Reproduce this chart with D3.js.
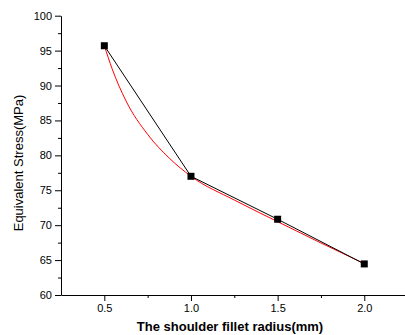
<!DOCTYPE html>
<html>
<head>
<meta charset="utf-8">
<script src="https://cdn.jsdelivr.net/npm/d3@7"></script>
<style>
  html, body { margin: 0; padding: 0; background: #fff; }
  svg { display: block; }
  text { font-family: "Liberation Sans", Arial, sans-serif; fill: #000; }
</style>
</head>
<body>
<svg id="chart" width="405" height="335"></svg>
<script>
// Data
const radius = [0.5, 1.0, 1.5, 2.0];
const stress = [95.7, 77.0, 70.85, 64.45];
// Red fitted curve
const fitX = [0.5, 0.545, 0.625, 0.75, 0.875, 1.0, 1.25, 1.5, 1.75, 2.0];
const fitY = [95.7, 92.4, 87.8, 83.0, 79.6, 77.0, 73.6, 70.5, 67.45, 64.5];
const xMajor = [0.5, 1.0, 1.5, 2.0];
const xMinor = [0.75, 1.25, 1.75];
const yMajor = [60, 65, 70, 75, 80, 85, 90, 95, 100];
const yMinor = [62.5, 67.5, 72.5, 77.5, 82.5, 87.5, 92.5, 97.5];
const xTitle = "The shoulder fillet radius(mm)";
const yTitle = "Equivalent Stress(MPa)";

const svg = d3.select("#chart");
const x = d3.scaleLinear().domain([0.25, 2.25]).range([61, 407.6]);
const y = d3.scaleLinear().domain([60, 100]).range([295, 15.7]);

// X axis
const gx = svg.append("g").attr("transform", `translate(0,${y(60)})`);
gx.call(d3.axisBottom(x).tickValues(xMajor).tickFormat(d3.format(".1f")).tickSize(6).tickSizeOuter(0));
gx.append("g").call(d3.axisBottom(x).tickValues(xMinor).tickFormat("").tickSize(3).tickSizeOuter(0))
  .select(".domain").remove();
gx.selectAll("text").attr("font-size", 11).attr("font-family", "Liberation Sans, Arial, sans-serif").attr("fill", "#000").attr("dy", "0.75em").attr("y", 9);

// Y axis
const gy = svg.append("g").attr("transform", `translate(${x(0.25)},0)`);
gy.call(d3.axisLeft(y).tickValues(yMajor).tickFormat(d3.format("d")).tickSize(6).tickSizeOuter(0));
gy.append("g").call(d3.axisLeft(y).tickValues(yMinor).tickFormat("").tickSize(3).tickSizeOuter(0))
  .select(".domain").remove();
gy.selectAll("text").attr("font-size", 11).attr("font-family", "Liberation Sans, Arial, sans-serif").attr("fill", "#000").attr("x", -9);

svg.selectAll(".domain, .tick line").attr("stroke", "#000").attr("stroke-width", 1);

// Red fitted curve
const fitData = fitX.map((d, i) => [d, fitY[i]]);
svg.append("path")
  .datum(fitData)
  .attr("fill", "none")
  .attr("stroke", "#ff0000")
  .attr("stroke-width", 1)
  .attr("d", d3.line().x(d => x(d[0])).y(d => y(d[1])).curve(d3.curveMonotoneX));

// Black line
const pts = radius.map((d, i) => [d, stress[i]]);
svg.append("path")
  .datum(pts)
  .attr("fill", "none")
  .attr("stroke", "#000")
  .attr("stroke-width", 1)
  .attr("d", d3.line().x(d => x(d[0])).y(d => y(d[1])));

// Markers
const ms = 7;
svg.selectAll("rect.pt").data(pts).enter().append("rect")
  .attr("class", "pt")
  .attr("x", d => x(d[0]) - ms / 2)
  .attr("y", d => y(d[1]) - ms / 2)
  .attr("width", ms).attr("height", ms)
  .attr("fill", "#000");

// Titles
svg.append("text")
  .attr("x", 230).attr("y", 331)
  .attr("text-anchor", "middle")
  .attr("font-size", 13).attr("font-weight", "bold")
  .text(xTitle);

svg.append("text")
  .attr("transform", `translate(23,${163}) rotate(-90)`)
  .attr("text-anchor", "middle")
  .attr("font-size", 13)
  .text(yTitle);
</script>
</body>
</html>
